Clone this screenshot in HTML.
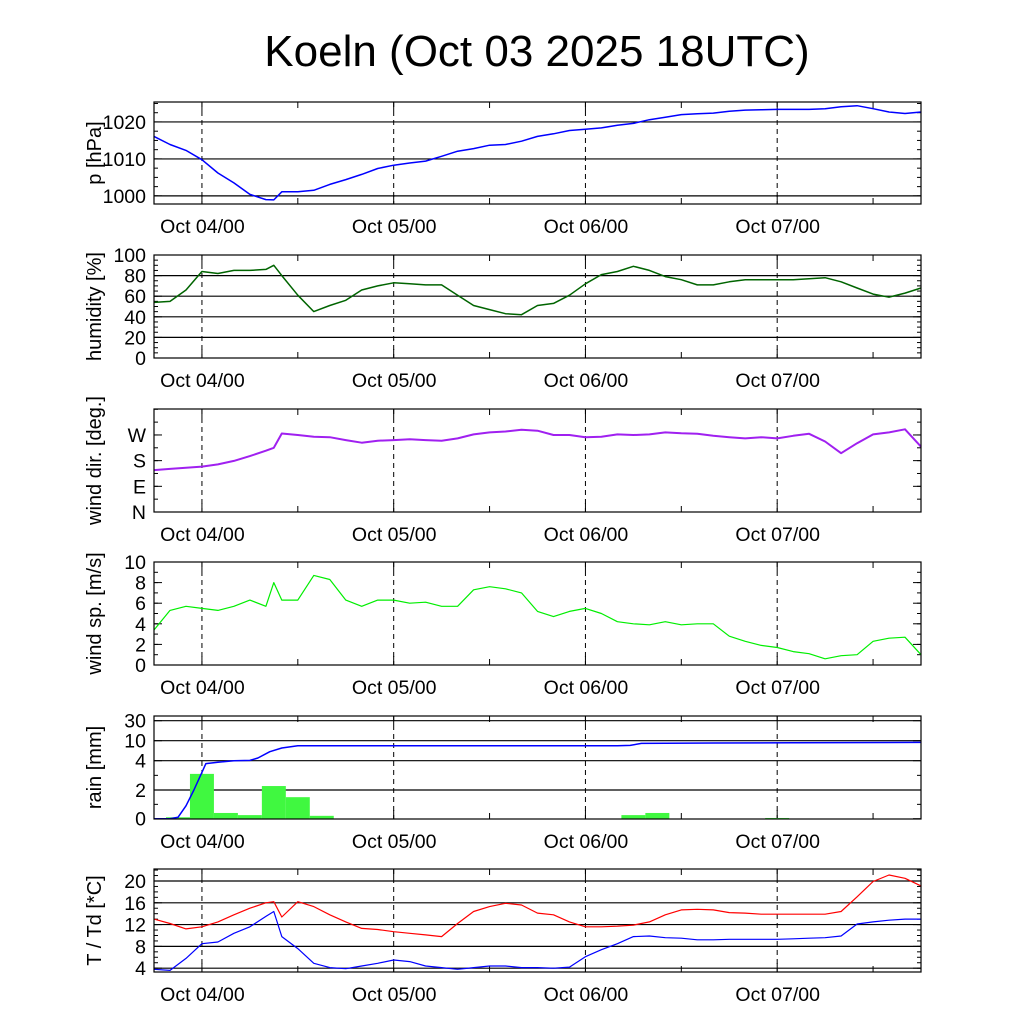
<!DOCTYPE html>
<html><head><meta charset="utf-8"><style>
html,body{margin:0;padding:0;background:#fff}
svg{display:block;font-family:"Liberation Sans",sans-serif}
</style></head><body>
<svg id="chart" width="1024" height="1024" viewBox="0 0 1024 1024" xmlns="http://www.w3.org/2000/svg">
<text x="537" y="66" font-size="44" text-anchor="middle">Koeln (Oct 03 2025 18UTC)</text>
</svg>
<script>
// hours since Oct 03 18UTC
const hours = [0,2,4,6,8,10,12,14,15,16,18,20,22,24,26,28,30,32,34,36,38,40,42,44,46,48,50,52,54,56,58,60,62,64,66,68,70,72,74,76,78,80,82,84,86,88,90,92,94,96];
const dayLabels = ["Oct 04/00","Oct 05/00","Oct 06/00","Oct 07/00"];
const dayHours = [6,30,54,78];
const pressure = [1016.1,1013.9,1012.3,1009.8,1006.2,1003.5,1000.4,999.0,998.9,1001.1,1001.1,1001.5,1003.1,1004.4,1005.8,1007.4,1008.3,1008.9,1009.4,1010.7,1012.1,1012.8,1013.7,1013.9,1014.8,1016.1,1016.8,1017.7,1018.0,1018.4,1019.1,1019.6,1020.6,1021.3,1022.0,1022.2,1022.4,1022.9,1023.2,1023.3,1023.4,1023.4,1023.4,1023.6,1024.1,1024.4,1023.6,1022.7,1022.3,1022.7];
const humidity = [54,55,66,84,82,85,85,86,90,80,61,45,51,56,66,70,73,72,71,71,61,51,47,43,42,51,53,61,72,81,84,89,85,79,76,71,71,74,76,76,76,76,77,78,74,68,62,59,63,68];
const windDir = [147,151,155,159,167,179,196,215,225,275,270,264,262,252,243,250,252,255,252,250,258,272,279,282,288,285,270,270,262,264,272,270,272,279,276,274,267,262,258,262,258,267,274,247,206,241,272,279,290,229];
const windSpeed = [3.4,5.3,5.7,5.5,5.3,5.7,6.3,5.7,8.0,6.3,6.3,8.7,8.3,6.3,5.7,6.3,6.3,6.0,6.1,5.7,5.7,7.3,7.6,7.4,7.0,5.2,4.7,5.2,5.5,5.0,4.2,4.0,3.9,4.2,3.9,4.0,4.0,2.8,2.3,1.9,1.7,1.3,1.1,0.6,0.9,1.0,2.3,2.6,2.7,1.0];
const temp = [13.0,12.2,11.2,11.6,12.5,13.8,15.0,16.0,16.2,13.4,16.2,15.3,13.8,12.5,11.3,11.1,10.7,10.4,10.1,9.8,12.2,14.4,15.3,15.9,15.6,14.1,13.8,12.5,11.6,11.6,11.7,11.9,12.5,13.8,14.7,14.8,14.7,14.2,14.1,13.9,13.9,13.9,13.9,13.9,14.4,17.1,19.9,21.1,20.5,19.1];
const dewpoint = [3.8,3.6,5.8,8.5,8.8,10.4,11.6,13.5,14.4,9.8,7.6,4.9,4.1,3.9,4.4,4.9,5.5,5.2,4.4,4.1,3.8,4.1,4.4,4.4,4.1,4.1,4.0,4.2,6.1,7.4,8.5,9.8,9.9,9.6,9.5,9.2,9.2,9.3,9.3,9.3,9.3,9.4,9.5,9.6,9.9,12.1,12.5,12.8,13.0,13.0];
const rainHours = [3,6,9,12,15,18,21,60,63,78];
const rainAmounts = [0.1,3.1,0.4,0.25,2.27,1.5,0.2,0.25,0.4,0.05];
const rainSumHours = [0,2,3,4,5,6,6.5,8,10,12,13,14.5,16,18,58,59.6,61,70,80,96];
const rainSum = [0,0,0.1,0.9,2.0,3.2,3.8,3.9,4.0,4.1,4.8,6.7,7.8,8.5,8.5,8.6,9.2,9.3,9.4,9.5];
const rainTicks = [0,2,4,10,30];

const NS="http://www.w3.org/2000/svg";
const svg=document.getElementById('chart');
function el(tag,attrs,parent){const e=document.createElementNS(NS,tag);for(const k in attrs)e.setAttribute(k,attrs[k]);(parent||svg).appendChild(e);return e;}
const X0=154,X1=921,HMAX=96;
function xs(h){return X0+(X1-X0)*h/HMAX;}

const panels=[
 {name:'pressure',title:'p [hPa]',top:102,bot:204,min:997.8,max:1025.4,ticks:[1000,1010,1020],labels:['1000','1010','1020'],grid:[1000,1010,1020],minor:2.5},
 {name:'humidity',title:'humidity [%]',top:255,bot:358,min:0,max:100,ticks:[0,20,40,60,80,100],labels:['0','20','40','60','80','100'],grid:[20,40,60,80],minor:5},
 {name:'wind-direction',title:'wind dir. [deg.]',top:409,bot:512,min:0,max:361,ticks:[0,90,180,270],labels:['N','E','S','W'],grid:[],minor:45},
 {name:'wind-speed',title:'wind sp. [m/s]',top:562,bot:665,min:0,max:10,ticks:[0,2,4,6,8,10],labels:['0','2','4','6','8','10'],grid:[],minor:1},
 {name:'rain',title:'rain [mm]',top:716,bot:819,rain:true,ticks:rainTicks,labels:rainTicks.map(String),grid:[2,4,10,30],minor:null},
 {name:'temperature',title:'T / Td [*C]',top:869,bot:972,min:3.3,max:22.2,ticks:[4,8,12,16,20],labels:['4','8','12','16','20'],grid:[4,8,12,16,20],minor:1}
];
const rainV=[0,2,4,10,30,45],rainY=[818.7,790,760.7,740.7,720.7,716];
function rainScale(v){for(let i=0;i<rainV.length-1;i++){if(v<=rainV[i+1]){return rainY[i]+(rainY[i+1]-rainY[i])*(v-rainV[i])/(rainV[i+1]-rainV[i]);}}return 716;}
panels.forEach(p=>{p.ys=p.rain?rainScale:(v=>p.bot-(p.bot-p.top)*(v-p.min)/(p.max-p.min));});

function line(p,hs,vals,color,name,w){
  const d=hs.map((h,i)=>(i?'L':'M')+xs(h).toFixed(1)+' '+p.ys(vals[i]).toFixed(1)).join(' ');
  const e=el('path',{d:d,fill:'none',stroke:color,'stroke-width':w||1.5,'stroke-linejoin':'round'});
  
  
}

panels.forEach((p,pi)=>{
  const g=el('g',{});
  
  
  p.grid.forEach(v=>{const y=p.ys(v);const e=el('line',{x1:X0,x2:X1,y1:y,y2:y,stroke:'#000','stroke-width':1.2},g);
    });
  dayHours.forEach(h=>{const e=el('line',{x1:xs(h),x2:xs(h),y1:p.top,y2:p.bot,stroke:'#000','stroke-width':1,'stroke-dasharray':'5,4'},g);
    });
  for(let h=6;h<HMAX;h+=12){const len=(h-6)%24===0?9:6;
    el('line',{x1:xs(h),x2:xs(h),y1:p.bot,y2:p.bot-len,stroke:'#000','stroke-width':1},g);
    el('line',{x1:xs(h),x2:xs(h),y1:p.top,y2:p.top+len,stroke:'#000','stroke-width':1},g);}
  p.ticks.forEach(v=>{const y=p.ys(v);
    el('line',{x1:X0,x2:X0+8,y1:y,y2:y,stroke:'#000'},g);el('line',{x1:X1,x2:X1-8,y1:y,y2:y,stroke:'#000'},g);});
  if(p.minor){for(let v=Math.ceil(p.min/p.minor)*p.minor;v<=p.max;v+=p.minor){const y=p.ys(v);
    el('line',{x1:X0,x2:X0+4,y1:y,y2:y,stroke:'#000'},g);el('line',{x1:X1,x2:X1-4,y1:y,y2:y,stroke:'#000'},g);}}
  if(p.rain){[1,3].forEach(v=>{const y=p.ys(v);el('line',{x1:X0,x2:X0+4,y1:y,y2:y,stroke:'#000'},g);el('line',{x1:X1,x2:X1-4,y1:y,y2:y,stroke:'#000'},g);});}
  p.ticks.forEach((v,i)=>{const t=el('text',{x:146,y:p.ys(v)+7,'font-size':19.5,'text-anchor':'end'},g);t.textContent=p.labels[i];
    });
  const cy=(p.top+p.bot)/2;
  const t=el('text',{x:0,y:0,'font-size':20,'text-anchor':'middle',transform:`translate(101 ${cy}) rotate(-90)`},g);
  t.textContent=p.title;
  
  dayHours.forEach((h,i)=>{const tl=el('text',{x:xs(h)+0.5,y:p.bot+29,'font-size':19.5,'text-anchor':'middle'},g);tl.textContent=dayLabels[i];
    });
});

line(panels[0],hours,pressure,'#0000ff','pressure-line');
line(panels[1],hours,humidity,'#006400','humidity-line');
line(panels[2],hours,windDir,'#a020f0','wind-direction-line',2);
line(panels[3],hours,windSpeed,'#00ee00','wind-speed-line',1.2);
const rp=panels[4];
rainHours.forEach((h,i)=>{const y=rp.ys(rainAmounts[i]);
  const r=el('rect',{x:xs(h-1.5),y:y,width:xs(h+1.5)-xs(h-1.5),height:rp.bot-y,fill:'#40f840'});
  
  });
line(rp,rainSumHours,rainSum,'#0000ff','rain-cumulative-line');
line(panels[5],hours,temp,'#ff0000','temperature-line',1.2);
line(panels[5],hours,dewpoint,'#0000ff','dewpoint-line',1.2);
panels.forEach(p=>{const f=el('rect',{x:X0,y:p.top,width:X1-X0,height:p.bot-p.top,fill:'none',stroke:'#000','stroke-width':1.2});
  });
</script>
</body></html>
